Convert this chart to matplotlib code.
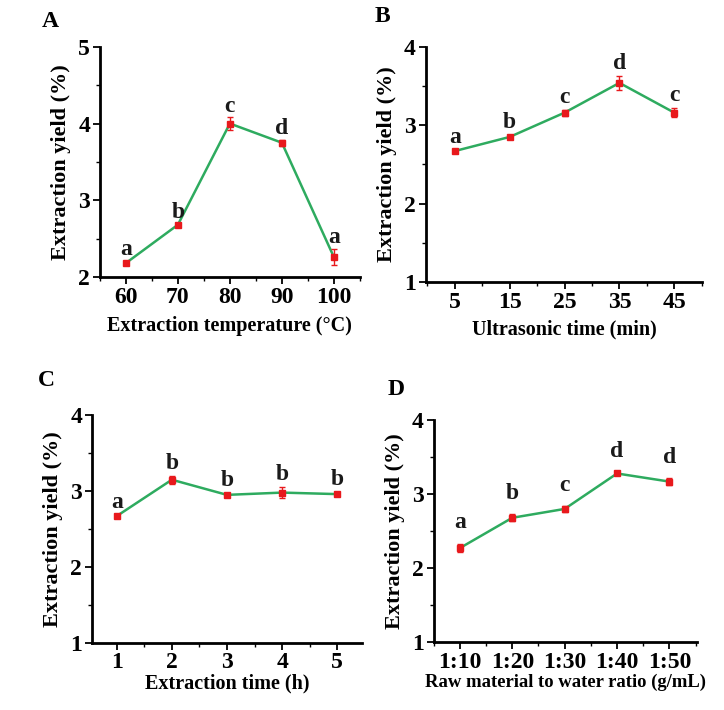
import matplotlib
matplotlib.use('Agg')
import matplotlib.pyplot as plt
from matplotlib.ticker import MultipleLocator, AutoMinorLocator

plt.rcParams['font.family'] = ['Liberation Serif', 'DejaVu Serif']
plt.rcParams['font.weight'] = 'bold'

# panel A
temp = [60, 70, 80, 90, 100]
temp_yield = [2.18, 2.68, 4.00, 3.75, 2.26]
temp_err = [0.03, 0.02, 0.08, 0.04, 0.11]
temp_sig = ['a', 'b', 'c', 'd', 'a']

# panel B
ultra = [5, 15, 25, 35, 45]
ultra_yield = [2.67, 2.85, 3.16, 3.54, 3.16]
ultra_err = [0.02, 0.02, 0.04, 0.09, 0.06]
ultra_sig = ['a', 'b', 'c', 'd', 'c']

# panel C
hours = [1, 2, 3, 4, 5]
hours_yield = [2.67, 3.15, 2.95, 2.98, 2.96]
hours_err = [0.02, 0.05, 0.02, 0.07, 0.03]
hours_sig = ['a', 'b', 'b', 'b', 'b']

# panel D
ratio = ['1:10', '1:20', '1:30', '1:40', '1:50']
ratio_yield = [2.27, 2.68, 2.80, 3.28, 3.17]
ratio_err = [0.06, 0.05, 0.04, 0.02, 0.05]
ratio_sig = ['a', 'b', 'c', 'd', 'd']

GREEN = '#2eab5f'
RED = '#e8191c'

fig = plt.figure(figsize=(7.24, 7.10), dpi=100)

def panel(rect, x, y, err, sig, xlim, ylim, xlabel, xlabel_size, letter, letter_pos,
          sig_off, xlabel_pad, ticklabels=None):
    ax = fig.add_axes(rect)
    xp = list(range(len(x))) if ticklabels else x
    ax.plot(xp, y, color=GREEN, linewidth=1.8, zorder=1)
    ax.errorbar(xp, y, yerr=err, fmt='s', color=RED, markersize=4.5,
                ecolor=RED, elinewidth=1.0, capsize=2.5, capthick=1.0, zorder=2)
    # significance letters sit just above the error bar
    for xi, yi, ei, s in zip(xp, y, err, sig):
        ax.annotate(s, (xi, yi + ei), xytext=(0, sig_off), textcoords='offset points',
                    ha='center', va='baseline', fontsize=17, fontweight='bold',
                    color='#1a1a1a')
    ax.set_xlim(*xlim)
    ax.set_ylim(*ylim)
    ax.yaxis.set_major_locator(MultipleLocator(1))
    ax.yaxis.set_minor_locator(AutoMinorLocator(2))
    if ticklabels:
        ax.set_xticks(xp)
        ax.set_xticklabels(ticklabels)
        ax.set_xticks([i + 0.5 for i in range(-1, len(x))], minor=True)
    else:
        ax.set_xticks(x)
        ax.xaxis.set_minor_locator(AutoMinorLocator(2))
    for side in ['top', 'right']:
        ax.spines[side].set_visible(False)
    for side in ['left', 'bottom']:
        ax.spines[side].set_linewidth(2.0)
    ax.tick_params(which='major', length=5, width=1.3, labelsize=17, pad=2)
    ax.tick_params(which='minor', length=3, width=1.0)
    ax.set_ylabel('Extraction yield (%)', fontsize=16, fontweight='bold', labelpad=5)
    ax.set_xlabel(xlabel, fontsize=xlabel_size, fontweight='bold', labelpad=xlabel_pad)
    fig.text(letter_pos[0], letter_pos[1], letter, fontsize=17, fontweight='bold',
             ha='left', va='center')
    return ax

panel([0.138, 0.610, 0.359, 0.324], temp, temp_yield, temp_err, temp_sig,
      (55, 105), (2, 5), 'Extraction temperature (\u00b0C)', 14.5, 'A', (0.058, 0.970),
      4, 6)
panel([0.588, 0.603, 0.382, 0.331], ultra, ultra_yield, ultra_err, ultra_sig,
      (-0.3, 50.1), (1, 4), 'Ultrasonic time (min)', 14.5, 'B', (0.517, 0.977), 5, 5)
panel([0.127, 0.095, 0.373, 0.320], hours, hours_yield, hours_err, hours_sig,
      (0.55, 5.45), (1, 4), 'Extraction time (h)', 14.5, 'C', (0.053, 0.464), 5, 0)
panel([0.599, 0.096, 0.364, 0.312], ratio, ratio_yield, ratio_err, ratio_sig,
      (-0.48, 4.53), (1, 4), 'Raw material to water ratio (g/mL)', 13.4, 'D',
      (0.535, 0.451), 11, 1, ticklabels=ratio)

fig.savefig('out.png', dpi=100)
